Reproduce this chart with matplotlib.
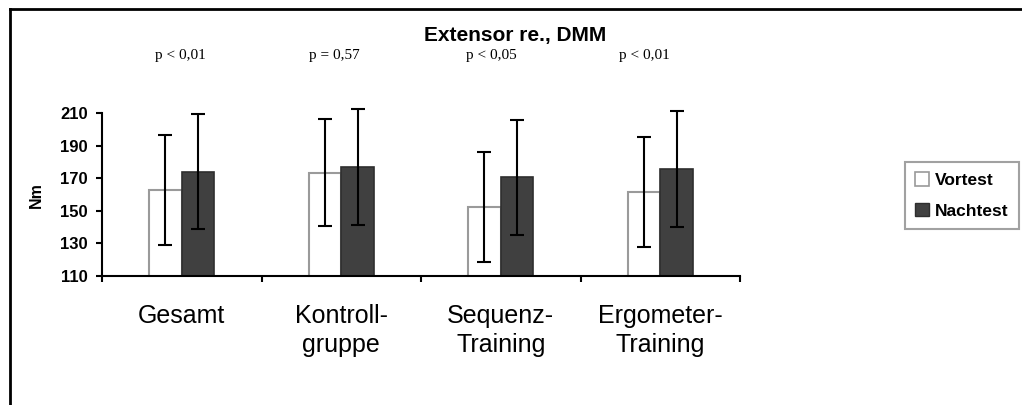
import numpy as np
import matplotlib
matplotlib.use("Agg")
import matplotlib.pyplot as plt
from matplotlib.lines import Line2D
from matplotlib.patches import Patch

# data
groups = ["Gesamt", "Kontroll-\ngruppe", "Sequenz-\nTraining", "Ergometer-\nTraining"]
vortest = [162.8, 173.4, 152.4, 161.8]
vortest_sd = [33.7, 32.8, 33.8, 33.7]
nachtest = [174.2, 176.8, 170.6, 175.9]
nachtest_sd = [35.3, 35.6, 35.5, 35.6]
p_labels = ["p < 0,01", "p = 0,57", "p < 0,05", "p < 0,01"]
yticks = [110, 130, 150, 170, 190, 210]

W, H = 1022, 405
fig = plt.figure(figsize=(W / 100, H / 100), dpi=100)
fig.patch.set_facecolor("white")

ax = fig.add_axes([102 / W, 1 - 276 / H, (740 - 102) / W, (276 - 113.3) / H])
x = np.arange(len(groups))
bw = 0.205

ax.bar(x - bw, vortest, width=bw, align="edge", color="white",
       edgecolor="#9a9a9a", linewidth=1.5, zorder=2)
ax.bar(x, nachtest, width=bw, align="edge", color="#404040",
       edgecolor="#2e2e2e", linewidth=1.2, zorder=2)
err_kw = dict(fmt="none", ecolor="black", elinewidth=1.5, capsize=4.7,
              capthick=1.5, zorder=3, clip_on=False)
ax.errorbar(x - bw / 2, vortest, yerr=vortest_sd, **err_kw)
ax.errorbar(x + bw / 2, nachtest, yerr=nachtest_sd, **err_kw)

ax.set_xlim(-0.5, len(groups) - 0.5)
ax.set_ylim(110, 210)
ax.set_yticks(yticks)
ax.set_yticklabels([str(v) for v in yticks], fontsize=12, fontweight="bold",
                   family="Liberation Sans")
ax.tick_params(axis="y", length=4, width=1.5, pad=6, direction="out")

ax.set_xticks(x)
ax.set_xticklabels(groups, fontsize=18, family="Liberation Sans", linespacing=1.3)
ax.tick_params(axis="x", length=0, pad=20)
ax.set_xticks(np.arange(len(groups) + 1) - 0.5, minor=True)
ax.tick_params(axis="x", which="minor", length=4, width=1.5, direction="out")

ax.set_ylabel("Nm", fontsize=11.5, fontweight="bold", family="Liberation Sans",
              labelpad=12)

for side in ["top", "right"]:
    ax.spines[side].set_visible(False)
for side in ["left", "bottom"]:
    ax.spines[side].set_linewidth(1.5)
    ax.spines[side].set_color("black")

fig.text(515 / W, 1 - 35 / H, "Extensor re., DMM", ha="center", va="center",
         fontsize=15, fontweight="bold", family="Liberation Sans")
for px, lab in zip([180, 334, 491, 644], p_labels):
    fig.text(px / W, 1 - 56 / H, lab, ha="center", va="center", fontsize=11,
             family="Liberation Serif")

handles = [Patch(facecolor="white", edgecolor="#9a9a9a", linewidth=1.2),
           Patch(facecolor="#404040", edgecolor="#2e2e2e", linewidth=1.0)]
leg = fig.legend(handles, ["Vortest", "Nachtest"], loc="upper left",
                 bbox_to_anchor=(905 / W, 1 - 162 / H), borderaxespad=0,
                 frameon=True, fancybox=False, shadow=False, borderpad=0.6,
                 handlelength=0.8, handleheight=0.8, handletextpad=0.3,
                 labelspacing=0.85, prop={"family": "Liberation Sans",
                                          "weight": "bold", "size": 12.5})
leg.get_frame().set_edgecolor("#8a8a8a")
leg.get_frame().set_linewidth(1.5)

# outer frame (top and left edges)
fig.add_artist(Line2D([10 / W, 1], [1 - 9 / H, 1 - 9 / H], color="black", lw=2))
fig.add_artist(Line2D([10 / W, 10 / W], [0, 1 - 9 / H], color="black", lw=2))

fig.savefig("out.png", dpi=100, facecolor="white")
